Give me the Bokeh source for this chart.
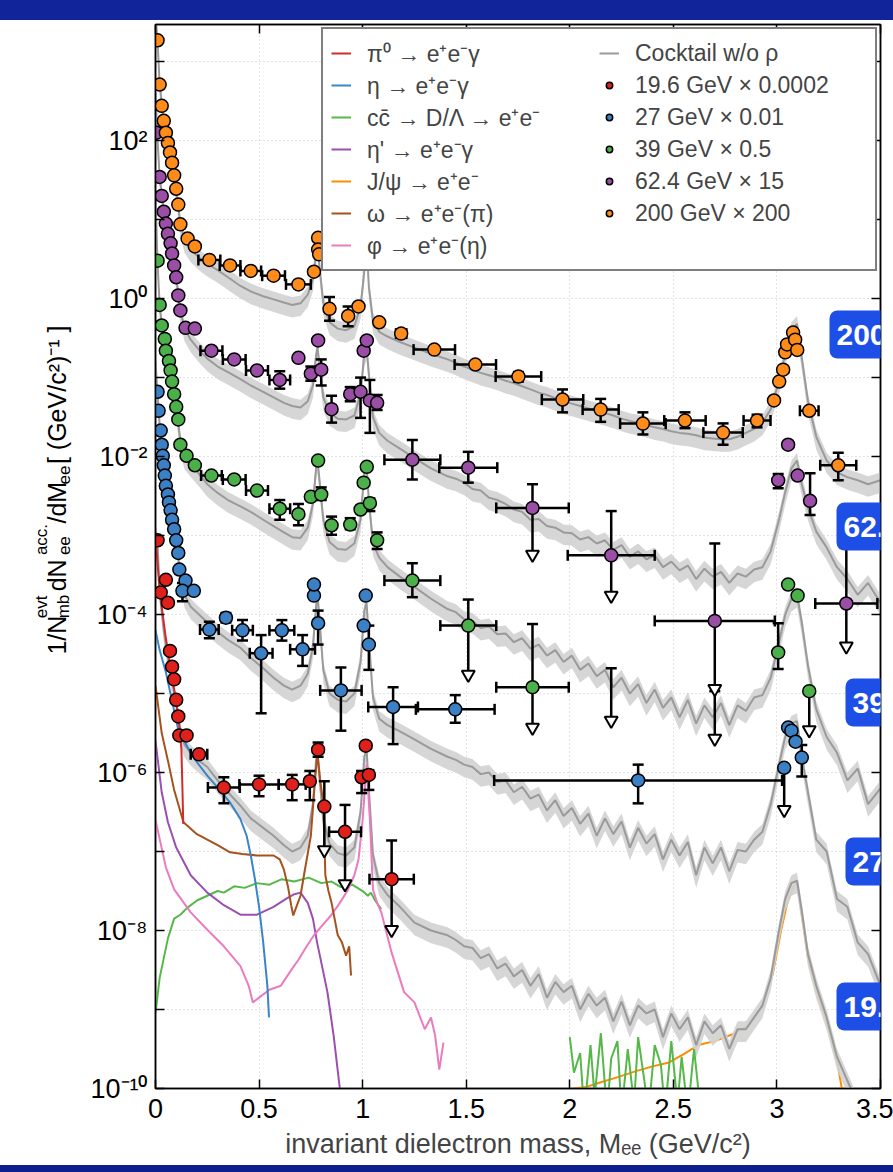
import math
from bokeh.plotting import figure
from bokeh.models import (Range1d, FixedTicker, CustomJSTickFormatter, LinearAxis,
                          LogAxis, Legend, LegendItem, Label, Div)
from bokeh.layouts import column, row
from bokeh.embed import file_html
from bokeh.resources import INLINE

FONT = "Liberation Sans"

# ---------------- data (log10 of the plotted values) ----------------
MASS_GRID = [0.0, 0.01, 0.02, 0.04, 0.06, 0.08, 0.10, 0.12, 0.14, 0.17, 0.21, 0.25, 0.30, 0.35,
             0.41, 0.46, 0.52, 0.57, 0.62, 0.66, 0.70, 0.735, 0.76, 0.775, 0.782, 0.79, 0.81,
             0.84, 0.88, 0.92, 0.96, 0.99, 1.008, 1.019, 1.03, 1.05, 1.08, 1.12, 1.18, 1.25,
             1.33,
             1.41, 1.45, 1.49, 1.53, 1.57, 1.61, 1.65, 1.69, 1.73, 1.77, 1.81, 1.85, 1.89, 1.93,
             1.97, 2.01, 2.05, 2.09, 2.13, 2.17, 2.21, 2.25, 2.29, 2.33, 2.37, 2.41, 2.45, 2.49,
             2.53, 2.57, 2.61, 2.65, 2.69, 2.73, 2.77, 2.81, 2.85, 2.89, 2.93, 2.97,
             3.01, 3.04, 3.07, 3.097, 3.12, 3.15, 3.19, 3.24, 3.29, 3.34, 3.39, 3.44, 3.5]

COCKTAIL_200 = [3.6, 3.25, 2.72, 2.25, 1.95, 1.70, 1.38, 0.95, 0.74, 0.62, 0.52, 0.44, 0.36, 0.27,
                0.16, 0.09, 0.03, -0.01, -0.05, -0.08, -0.06, 0.05, 0.25, 0.58, 0.70, 0.45, -0.05,
                -0.30, -0.38, -0.40, -0.35, -0.10, 0.35, 0.72, 0.15, -0.28, -0.42, -0.48, -0.55,
                -0.62, -0.70,
                -0.77, -0.81, -0.86, -0.90, -0.94, -0.97, -1.00, -1.04, -1.07, -1.11, -1.15,
                -1.19, -1.22, -1.26, -1.30, -1.33, -1.36, -1.39, -1.42, -1.45, -1.48, -1.52,
                -1.55, -1.57, -1.60, -1.63, -1.65, -1.68, -1.70, -1.71, -1.73, -1.76, -1.77,
                -1.78, -1.78, -1.75, -1.70, -1.65, -1.57, -1.40,
                -1.05, -0.70, -0.40, -0.32, -0.75, -1.30, -1.75, -2.05, -2.20, -2.26, -2.30,
                -2.35, -2.30]
COCKTAIL_62 = [2.6, 2.0, 1.55, 1.10, 0.82, 0.57, 0.27, -0.15, -0.38, -0.52, -0.65, -0.76, -0.86,
               -0.93, -1.02, -1.10, -1.18, -1.25, -1.32, -1.36, -1.38, -1.30, -1.10, -0.72, -0.62,
               -0.80, -1.25, -1.45, -1.52, -1.53, -1.48, -1.20, -0.70, -0.62, -0.95, -1.50, -1.70,
               -1.80, -1.90, -2.02, -2.15,
               -2.25, -2.28, -2.33, -2.41, -2.43, -2.52, -2.55, -2.60, -2.67, -2.70, -2.80,
               -2.79, -2.88, -2.90, -2.96, -2.97, -3.05, -3.02, -3.10, -3.06, -3.18, -3.12,
               -3.27, -3.20, -3.30, -3.25, -3.40, -3.33, -3.44, -3.38, -3.55, -3.42, -3.52,
               -3.46, -3.60, -3.48, -3.52, -3.43, -3.40, -3.20,
               -2.80, -2.45, -2.15, -2.05, -2.35, -2.65, -2.95, -3.15, -3.40, -3.55, -3.75,
               -3.60, -3.85]
COCKTAIL_39 = [1.3, 0.45, -0.08, -0.55, -0.80, -1.05, -1.37, -1.80, -2.00, -2.10, -2.22, -2.35,
               -2.46, -2.55, -2.63, -2.70, -2.80, -2.88, -2.96, -3.02, -3.03, -2.90, -2.60, -2.15,
               -2.05, -2.25, -2.80, -3.08, -3.17, -3.18, -3.10, -2.80, -2.20, -2.12, -2.55,
               -3.10, -3.28, -3.40, -3.52, -3.65, -3.80,
               -3.93, -3.97, -4.06, -4.08, -4.17, -4.15, -4.25, -4.24, -4.35, -4.30, -4.43,
               -4.38, -4.52, -4.45, -4.60, -4.52, -4.70, -4.62, -4.78, -4.70, -4.92, -4.80,
               -5.00, -4.88, -5.12, -4.95, -5.18, -5.05, -5.30, -5.08, -5.38, -5.15, -5.30,
               -5.12, -5.40, -5.15, -5.22, -5.05, -5.02, -4.80,
               -4.35, -4.00, -3.80, -3.75, -4.10, -4.65, -5.20, -5.55, -5.75, -6.10, -5.95,
               -6.40, -6.20]
COCKTAIL_27 = [-0.8, -1.20, -1.60, -2.10, -2.45, -2.78, -3.05, -3.50, -3.75, -3.90, -4.00, -4.10,
               -4.22, -4.32, -4.42, -4.55, -4.68, -4.80, -4.90, -4.95, -4.90, -4.75, -4.40, -3.90,
               -3.75, -4.00, -4.70, -5.00, -5.08, -5.10, -5.00, -4.60, -3.95, -3.85, -4.30,
               -5.05, -5.32, -5.40, -5.48, -5.58, -5.70,
               -5.80, -5.84, -5.90, -5.93, -6.02, -6.00, -6.12, -6.10, -6.25, -6.18, -6.33,
               -6.28, -6.48, -6.35, -6.55, -6.45, -6.65, -6.52, -6.80, -6.58, -6.78, -6.62,
               -6.95, -6.70, -6.90, -6.78, -7.10, -6.85, -7.05, -6.88, -7.30, -6.95, -7.15,
               -6.95, -7.25, -6.98, -7.00, -6.85, -6.75, -6.40,
               -5.90, -5.55, -5.38, -5.35, -5.80, -6.25, -6.85, -7.00, -7.60, -7.70, -8.15,
               -8.30, -8.70]
COCKTAIL_19 = [-2.9, -3.10, -3.70, -4.20, -4.55, -4.85, -5.10, -5.50, -5.65, -5.75, -5.85, -5.93,
               -6.10, -6.25, -6.42, -6.58, -6.70, -6.80, -6.92, -7.00, -6.95, -6.80, -6.40, -5.85,
               -5.75, -6.00, -6.60, -6.90, -7.02, -7.05, -6.95, -6.50, -5.80, -5.70, -6.20,
               -7.05, -7.40, -7.55, -7.70, -7.90, -8.00,
               -8.06, -8.12, -8.20, -8.22, -8.35, -8.30, -8.48, -8.42, -8.58, -8.50, -8.70,
               -8.55, -8.85, -8.65, -8.78, -8.70, -9.00, -8.80, -8.95, -8.85, -9.15, -8.90,
               -9.20, -8.95, -9.05, -9.00, -9.35, -9.05, -9.25, -9.10, -9.45, -9.15, -9.30,
               -9.20, -9.50, -9.25, -9.25, -9.10, -8.95, -8.60,
               -8.00, -7.60, -7.40, -7.37, -7.75, -8.30, -8.70, -9.10, -9.60, -9.90, -10.2,
               -10.5, -10.8]
SYS_LO_DEX = 0.16   # cocktail systematic band (log10 units)
SYS_HI_DEX = 0.10

# 19.6 GeV cocktail components (x 0.0002)
PI0_M = [0.0, 0.02, 0.05, 0.08, 0.10, 0.115, 0.125, 0.13, 0.134]
PI0_L = [-3.0, -3.7, -4.3, -4.8, -5.1, -5.4, -5.7, -6.2, -6.65]
ETA_M = [0.0, 0.02, 0.05, 0.11, 0.18, 0.25, 0.31, 0.36, 0.41, 0.44, 0.46, 0.48, 0.50, 0.52, 0.54, 0.548]
ETA_L = [-4.2, -4.45, -4.73, -5.46, -5.80, -6.04, -6.22, -6.38, -6.59, -6.80, -7.05, -7.35, -7.70,
         -8.15, -8.70, -9.10]
OMEGA_M = [0.0, 0.03, 0.06, 0.09, 0.135, 0.20, 0.25, 0.30, 0.36, 0.42, 0.49, 0.57, 0.60, 0.62,
           0.64, 0.655, 0.665, 0.68, 0.70, 0.72, 0.75, 0.77, 0.782, 0.795, 0.81, 0.82, 0.835,
           0.85, 0.88, 0.90, 0.92, 0.935, 0.944]
OMEGA_L = [-4.9, -5.5, -5.85, -6.22, -6.63, -6.78, -6.85, -6.92, -7.01, -7.03, -7.05, -7.05,
           -7.10, -7.23, -7.45, -7.68, -7.81, -7.70, -7.56, -7.25, -6.80, -6.10, -5.75, -6.10,
           -6.38, -7.30, -7.50, -7.65, -8.06, -8.15, -8.32, -8.20, -8.57]
ETAP_M = [0.0, 0.03, 0.06, 0.10, 0.17, 0.25, 0.33, 0.41, 0.49, 0.57, 0.63, 0.67, 0.70, 0.735,
          0.76, 0.78, 0.80, 0.83, 0.86, 0.885, 0.89]
ETAP_L = [-5.6, -6.25, -6.63, -6.95, -7.30, -7.52, -7.68, -7.80, -7.80, -7.70, -7.60, -7.54,
          -7.52, -7.65, -7.85, -8.15, -8.40, -8.78, -9.33, -9.89, -10.0]
PHI_M = [0.0, 0.05, 0.09, 0.17, 0.25, 0.33, 0.41, 0.45, 0.47, 0.50, 0.55, 0.605, 0.65, 0.69,
         0.73, 0.765, 0.80, 0.847, 0.89, 0.93, 0.96, 0.98, 1.0, 1.019, 1.035, 1.05, 1.07, 1.09,
         1.14, 1.20, 1.25, 1.30, 1.33, 1.35, 1.37, 1.39]
PHI_L = [-6.6, -7.2, -7.48, -7.77, -7.99, -8.20, -8.45, -8.70, -8.91, -8.85, -8.75, -8.70,
         -8.52, -8.37, -8.20, -8.06, -7.95, -7.81, -7.65, -7.48, -7.30, -7.10, -6.60, -5.90,
         -6.60, -7.48, -7.65, -7.77, -8.28, -8.78, -8.91, -9.25, -9.10, -9.33, -9.76, -9.42]
CCBAR_M = [0.0, 0.02, 0.04, 0.06, 0.09, 0.12, 0.15, 0.20, 0.25, 0.30, 0.33, 0.38, 0.43, 0.49,
           0.55, 0.61, 0.67, 0.74, 0.80, 0.85, 0.895, 0.95, 1.0, 1.025, 1.04, 1.06, 1.09]
CCBAR_L = [-9.05, -8.60, -8.35, -8.10, -7.85, -7.80, -7.72, -7.62, -7.56, -7.50, -7.52, -7.44,
           -7.46, -7.40, -7.42, -7.35, -7.38, -7.33, -7.40, -7.38, -7.45, -7.42, -7.50, -7.56,
           -7.52, -7.62, -7.73]
CCBAR_HI_M = [2.0, 2.02, 2.05, 2.07, 2.10, 2.12, 2.15, 2.18, 2.20, 2.23, 2.25, 2.28, 2.31, 2.33,
              2.36, 2.38, 2.41, 2.44, 2.46, 2.49, 2.52, 2.54, 2.57, 2.60, 2.62, 2.64]
CCBAR_HI_L = [-9.35, -9.80, -9.55, -10.3, -9.45, -10.1, -9.30, -10.3, -9.62, -9.40, -10.3,
              -9.50, -10.2, -9.35, -9.90, -10.3, -9.45, -9.70, -10.3, -9.40, -10.2, -9.60,
              -10.3, -9.50, -10.0, -10.3]
JPSI_M = [1.87, 1.95, 2.02, 2.08, 2.15, 2.24, 2.32, 2.40, 2.48, 2.56, 2.62, 2.70, 2.78, 2.86,
          2.93, 2.98, 3.02, 3.05, 3.08, 3.097, 3.12, 3.15, 3.19, 3.24, 3.29, 3.32]
JPSI_L = [-10.05, -10.02, -10.0, -9.98, -9.92, -9.85, -9.78, -9.72, -9.67, -9.55, -9.45, -9.40,
          -9.32, -9.20, -8.95, -8.55, -8.00, -7.65, -7.45, -7.40, -7.80, -8.35, -8.75, -9.15,
          -9.65, -10.1]

# data points: (mass, log10 value, x half-width, log10 err low, log10 err high)
PTS_200 = [(0.01, 3.27, 0, None, None), (0.02, 2.71, 0, None, None), (0.03, 2.44, 0, None, None),
           (0.04, 2.25, 0, None, None), (0.05, 2.10, 0, None, None), (0.06, 1.97, 0, None, None),
           (0.07, 1.85, 0, None, None), (0.08, 1.72, 0, None, None), (0.09, 1.56, 0, None, None),
           (0.10, 1.39, 0, None, None), (0.11, 1.19, 0, None, None), (0.12, 0.94, 0, None, None),
           (0.155, 0.76, 0, None, None), (0.19, 0.66, 0, None, None), (0.26, 0.49, 0.053, None, None),
           (0.36, 0.42, 0.05, None, None), (0.46, 0.35, 0.05, None, None), (0.57, 0.29, 0.055, None, None),
           (0.69, 0.18, 0.06, None, None), (0.765, 0.34, 0, None, None), (0.785, 0.77, 0, None, None),
           (0.785, 0.62, 0, None, None), (0.79, 0.56, 0, None, None), (0.84, -0.13, 0, -0.28, 0.02),
           (0.93, -0.22, 0, -0.35, -0.10), (0.98, -0.10, 0, None, None), (1.005, 0.68, 0, None, None),
           (1.01, 0.52, 0, None, None), (1.08, -0.30, 0, None, None), (1.186, -0.443, 0.025, None, None),
           (1.346, -0.646, 0.10, None, None), (1.544, -0.835, 0.10, None, None),
           (1.752, -0.987, 0.11, -1.05, -0.93), (1.965, -1.278, 0.10, -1.44, -1.15),
           (2.149, -1.405, 0.087, -1.56, -1.27), (2.353, -1.582, 0.11, -1.72, -1.44),
           (2.556, -1.544, 0.10, -1.64, -1.44), (2.740, -1.696, 0.095, -1.85, -1.58),
           (2.904, -1.544, 0.065, -1.63, -1.47), (2.986, -1.29, 0, None, None),
           (3.011, -1.05, 0, None, None), (3.030, -0.90, 0, None, None), (3.040, -0.68, 0, None, None),
           (3.049, -0.58, 0, None, None), (3.078, -0.43, 0, None, None), (3.088, -0.52, 0, None, None),
           (3.098, -0.65, 0, None, None), (3.156, -1.42, 0.045, None, None),
           (3.296, -2.11, 0.087, -2.30, -1.95)]
PTS_62 = [(0.005, 2.10, 0, None, None), (0.02, 1.54, 0, None, None), (0.03, 1.30, 0, None, None),
          (0.04, 1.10, 0, None, None), (0.05, 0.95, 0, None, None), (0.06, 0.82, 0, None, None),
          (0.073, 0.70, 0, None, None), (0.08, 0.57, 0, None, None), (0.09, 0.42, 0, None, None),
          (0.10, 0.27, 0, None, None), (0.11, 0.04, 0, None, None), (0.12, -0.15, 0, None, None),
          (0.145, -0.37, 0, None, None), (0.19, -0.38, 0, None, None), (0.27, -0.66, 0.053, None, None),
          (0.38, -0.77, 0.055, None, None), (0.49, -0.91, 0.053, None, None),
          (0.60, -1.03, 0.05, -1.14, -0.92), (0.69, -0.75, 0, None, None),
          (0.75, -0.95, 0, -1.04, -0.86), (0.785, -0.53, 0, None, None), (0.80, -0.90, 0, -1.10, -0.77),
          (0.85, -1.40, 0, -1.57, -1.23), (0.94, -1.21, 0, -1.30, -1.12), (0.99, -1.18, 0, -1.51, -1.00),
          (1.005, -0.66, 0, None, None), (1.02, -0.53, 0, None, None), (1.035, -1.29, 0, -1.70, -1.03),
          (1.07, -1.32, 0, -1.41, -1.22), (1.24, -2.04, 0.135, -2.29, -1.79),
          (1.51, -2.14, 0.14, -2.33, -1.94), (3.006, -2.30, 0, -2.40, -2.22),
          (3.054, -1.85, 0, None, None), (3.10, -2.24, 0, None, None), (3.16, -2.56, 0, -2.74, -2.21)]
PTS_39 = [(0.01, 0.48, 0, None, None), (0.02, -0.08, 0, None, None), (0.03, -0.34, 0, None, None),
          (0.045, -0.51, 0, None, None), (0.05, -0.66, 0, None, None), (0.065, -0.79, 0, None, None),
          (0.073, -0.91, 0, None, None), (0.08, -1.05, 0, None, None), (0.09, -1.21, 0, None, None),
          (0.10, -1.37, 0, None, None), (0.11, -1.53, 0, None, None), (0.12, -1.85, 0, None, None),
          (0.15, -1.99, 0, None, None), (0.19, -2.11, 0, None, None), (0.27, -2.24, 0.05, None, None),
          (0.38, -2.29, 0.055, None, None), (0.49, -2.43, 0.053, None, None),
          (0.60, -2.66, 0.05, -2.80, -2.55), (0.69, -2.73, 0, -2.87, -2.60),
          (0.75, -2.51, 0, None, None), (0.785, -2.05, 0, None, None), (0.80, -2.48, 0, -2.55, -2.39),
          (0.85, -2.87, 0, -2.99, -2.76), (0.94, -2.86, 0, -2.92, -2.78), (0.99, -2.67, 0, None, None),
          (1.005, -2.33, 0, None, None), (1.02, -2.13, 0, None, None), (1.035, -2.59, 0, -2.69, -2.53),
          (1.07, -3.06, 0, -3.17, -2.96), (1.24, -3.57, 0.135, -3.78, -3.35),
          (3.006, -4.48, 0, -4.69, -4.11), (3.054, -3.62, 0, None, None), (3.10, -3.76, 0, None, None)]
PTS_27 = [(0.01, -1.18, 0, None, None), (0.015, -1.42, 0, None, None), (0.025, -1.67, 0, None, None),
          (0.03, -1.85, 0, None, None), (0.035, -1.99, 0, None, None), (0.04, -2.11, 0, None, None),
          (0.045, -2.24, 0, None, None), (0.05, -2.37, 0, None, None), (0.06, -2.48, 0, None, None),
          (0.065, -2.58, 0, None, None), (0.073, -2.68, 0, None, None), (0.08, -2.80, 0, None, None),
          (0.09, -2.92, 0, None, None), (0.10, -3.06, 0, None, None), (0.11, -3.22, 0, None, None),
          (0.115, -3.43, 0, None, None), (0.145, -3.57, 0, None, None), (0.13, -3.70, 0, -3.83, -3.60),
          (0.185, -3.70, 0, None, None), (0.26, -4.19, 0.045, -4.30, -4.09),
          (0.34, -4.04, 0, -4.10, -3.98), (0.42, -4.20, 0.05, -4.33, -4.07),
          (0.51, -4.49, 0.055, -5.25, -4.26), (0.61, -4.20, 0.06, -4.33, -4.07),
          (0.71, -4.44, 0.06, -4.65, -4.26), (0.765, -3.76, 0, None, None), (0.765, -3.62, 0, None, None),
          (0.785, -4.11, 0, -4.38, -3.95), (0.895, -4.96, 0.10, -5.47, -4.67),
          (1.005, -4.14, 0, None, None), (1.015, -3.76, 0, None, None), (1.03, -4.38, 0, -4.70, -4.14),
          (1.147, -5.17, 0.12, -5.64, -4.92), (1.447, -5.20, 0.19, -5.37, -5.02),
          (2.33, -6.10, 0.695, -6.39, -5.90), (3.054, -5.43, 0, None, None), (3.07, -5.47, 0, None, None),
          (3.09, -5.61, 0, None, None), (3.12, -5.81, 0, -6.05, -5.65)]
PTS_19 = [(0.01, -3.06, 0, None, None), (0.025, -3.72, 0, None, None), (0.05, -3.56, 0, None, None),
          (0.06, -3.85, 0, None, None), (0.07, -4.46, 0, None, None), (0.08, -4.66, 0, None, None),
          (0.09, -4.82, 0, None, None), (0.10, -5.08, 0, None, None), (0.11, -5.29, 0, None, None),
          (0.115, -5.53, 0, None, None), (0.15, -5.53, 0, None, None), (0.21, -5.77, 0.04, None, None),
          (0.33, -6.19, 0.077, -6.39, -6.06), (0.50, -6.15, 0.095, -6.30, -6.04),
          (0.66, -6.15, 0.065, -6.35, -6.03), (0.745, -6.11, 0, -6.35, -5.98),
          (0.785, -5.71, 0, -5.80, -5.62), (0.995, -6.06, 0, -6.26, -5.98),
          (1.015, -5.66, 0, None, None), (1.03, -6.03, 0, -6.22, -5.97)]
# upper limits: (mass, log10 value or None, x half-width, log10 cap, log10 arrow end)
UL_62 = [(1.82, -2.65, 0.175, -2.35, -3.30), (2.20, -3.25, 0.21, -2.69, -3.82),
         (2.70, -4.08, 0.29, -3.10, -5.00), (3.335, -3.86, 0.15, -3.15, -4.46)]
UL_39 = [(1.51, -4.14, 0.135, -3.81, -4.82), (1.82, -4.92, 0.175, -4.12, -5.49),
         (2.20, None, 0, -4.68, -5.40), (2.70, None, 0, -4.97, -5.63), (3.156, -4.97, 0, -4.97, -5.52)]
UL_27 = [(3.035, -5.94, 0, -5.94, -6.53)]
UL_19 = [(0.815, -6.43, 0, -6.11, -7.04), (0.915, -6.75, 0.077, -6.41, -7.47),
         (1.14, -7.35, 0.107, -6.86, -8.05)]

SERIES_LABELS = ["19.6 GeV × 0.0002", "27 GeV × 0.01", "39 GeV × 0.5", "62.4 GeV × 15", "200 GeV × 200"]
COMPONENT_LABELS = ["π⁰ → e⁺e⁻γ", "η → e⁺e⁻γ", "cc̄ → D/Λ → e⁺e⁻", "η' → e⁺e⁻γ",
                    "J/ψ → e⁺e⁻", "ω → e⁺e⁻(π)", "φ → e⁺e⁻(η)"]
ENERGY_TAGS = ["200", "62.", "39", "27", "19."]   # as visible at the right edge

# ---------------- styling ----------------
C_RED, C_BLUE, C_GREEN, C_PURPLE, C_ORANGE = "#e0201b", "#3b7fc4", "#4cb04a", "#9a4ea6", "#ff8c1a"
L_PI0, L_ETA, L_CC, L_ETAP, L_JPSI, L_OMEGA, L_PHI = ("#d42a2a", "#3a85c8", "#55b848", "#9b4fb0",
                                                       "#ff8c00", "#a5521e", "#ea7bbf")
GRAY, BAND = "#9a9a9a", "#d2d2d2"


def pw(vals):
    return [10 ** v for v in vals]


W, H = 893, 1145
LW = 75                     # width of the strip holding the y-axis title
TOP_LOG = 3.47
FRAME_LEFT = 155            # absolute x of the plot frame
p = figure(width=W - LW, height=H, y_axis_type="log",
           x_range=Range1d(0, 3.5), y_range=Range1d(1e-10, 10 ** TOP_LOG),
           output_backend="svg", toolbar_location=None,
           min_border_left=FRAME_LEFT - LW, min_border_right=13, min_border_top=4,
           min_border_bottom=77)
p.outline_line_color = "black"
p.outline_line_width = 1.5
p.border_fill_color = "white"

# cocktails (J/psi component drawn first so the bands sit over it)
r_jpsi = p.line(JPSI_M, pw(JPSI_L), line_color=L_JPSI, line_width=2)
for vals in [COCKTAIL_200, COCKTAIL_62, COCKTAIL_39, COCKTAIL_27, COCKTAIL_19]:
    p.varea(x=MASS_GRID, y1=[10 ** (v - SYS_LO_DEX) for v in vals],
            y2=[10 ** (v + SYS_HI_DEX) for v in vals], fill_color=BAND, fill_alpha=0.92)
cock_r = None
for vals in [COCKTAIL_200, COCKTAIL_62, COCKTAIL_39, COCKTAIL_27, COCKTAIL_19]:
    cock_r = p.line(MASS_GRID, pw(vals), line_color=GRAY, line_width=2)

r_cc = p.line(CCBAR_M, pw(CCBAR_L), line_color=L_CC, line_width=2)
p.line(CCBAR_HI_M, pw(CCBAR_HI_L), line_color=L_CC, line_width=2)
r_etap = p.line(ETAP_M, pw(ETAP_L), line_color=L_ETAP, line_width=2)
r_phi = p.line(PHI_M, pw(PHI_L), line_color=L_PHI, line_width=2)
r_omega = p.line(OMEGA_M, pw(OMEGA_L), line_color=L_OMEGA, line_width=2)
r_eta = p.line(ETA_M, pw(ETA_L), line_color=L_ETA, line_width=2)
r_pi0 = p.line(PI0_M, pw(PI0_L), line_color=L_PI0, line_width=2)

# error bars
sx0, sy0, sx1, sy1 = [], [], [], []
vcx, vcy, hcx, hcy, tx, ty = [], [], [], [], [], []
for pts in [PTS_200, PTS_62, PTS_39, PTS_27, PTS_19]:
    for (m, ly, dx, lo, hi) in pts:
        y = 10 ** ly
        if dx:
            sx0 += [m - dx]; sx1 += [m + dx]; sy0 += [y]; sy1 += [y]
            vcx += [m - dx, m + dx]; vcy += [y, y]
        if lo is not None:
            sx0 += [m]; sx1 += [m]; sy0 += [10 ** lo]; sy1 += [10 ** hi]
            hcx += [m, m]; hcy += [10 ** lo, 10 ** hi]
for uls in [UL_62, UL_39, UL_27, UL_19]:
    for (m, ly, dx, cap, tip) in uls:
        sx0 += [m]; sx1 += [m]; sy0 += [10 ** cap]; sy1 += [10 ** tip]
        hcx += [m]; hcy += [10 ** cap]
        tx += [m]; ty += [10 ** (tip + 0.06)]
        if ly is not None and dx:
            sx0 += [m - dx]; sx1 += [m + dx]; sy0 += [10 ** ly]; sy1 += [10 ** ly]
            vcx += [m - dx, m + dx]; vcy += [10 ** ly, 10 ** ly]

p.segment(sx0, sy0, sx1, sy1, line_color="black", line_width=2.5)
p.scatter(vcx, vcy, marker="dash", angle=math.pi / 2, size=11, line_color="black", line_width=2.5)
p.scatter(hcx, hcy, marker="dash", size=11, line_color="black", line_width=2.5)
p.scatter(tx, ty, marker="inverted_triangle", size=13, fill_color="white",
          line_color="black", line_width=2)

series_r = []
for pts, uls, col in [(PTS_19, UL_19, C_RED), (PTS_27, UL_27, C_BLUE), (PTS_39, UL_39, C_GREEN),
                      (PTS_62, UL_62, C_PURPLE), (PTS_200, [], C_ORANGE)]:
    xs = [t[0] for t in pts] + [u[0] for u in uls if u[1] is not None]
    ys = [10 ** t[1] for t in pts] + [10 ** u[1] for u in uls if u[1] is not None]
    series_r.append(p.scatter(xs, ys, marker="circle", size=13, fill_color=col,
                              line_color="black", line_width=1.5))

# axes
X_TICKS = [0, 0.5, 1, 1.5, 2, 2.5, 3, 3.5]
Y_TICKS = [10.0 ** e for e in range(-10, 4)]
p.xaxis.ticker = FixedTicker(ticks=X_TICKS)
p.xaxis.formatter = CustomJSTickFormatter(code="return tick.toString();")
p.yaxis.ticker = FixedTicker(ticks=Y_TICKS)
p.yaxis.formatter = CustomJSTickFormatter(code="""
const e = Math.round(Math.log10(tick));
if (e % 2 !== 0) { return ""; }
const m = {"-": "\u207b", "0": "\u2070", "1": "\u00b9", "2": "\u00b2", "3": "\u00b3",
           "4": "\u2074", "5": "\u2075", "6": "\u2076", "7": "\u2077", "8": "\u2078", "9": "\u2079"};
return "10" + String(e).split("").map(c => m[c]).join("");
""")
for ax in [p.xaxis[0], p.yaxis[0]]:
    ax.major_tick_in = 9
    ax.major_tick_out = 0
    ax.minor_tick_in = 0
    ax.minor_tick_out = 0
    ax.major_tick_line_width = 1.5
    ax.axis_line_width = 1.5
    ax.major_label_text_font = FONT
    ax.major_label_text_font_size = "27px"
    ax.major_label_text_color = "black"
p.yaxis.major_label_standoff = 8
p.xaxis.major_label_standoff = 10
p.xaxis.axis_label = "invariant dielectron mass, Mₑₑ (GeV/c²)"
p.xaxis.axis_label_text_font = FONT
p.xaxis.axis_label_text_font_size = "27px"
p.xaxis.axis_label_text_font_style = "normal"
p.xaxis.axis_label_standoff = 8

blank = CustomJSTickFormatter(code="return '';")
top_ax = LinearAxis(ticker=FixedTicker(ticks=X_TICKS), formatter=blank,
                    major_tick_in=9, major_tick_out=0, minor_tick_in=0, minor_tick_out=0,
                    major_label_standoff=0, major_tick_line_width=1.5, axis_line_width=1.5)
right_ax = LogAxis(ticker=FixedTicker(ticks=Y_TICKS), formatter=blank,
                   major_tick_in=9, major_tick_out=0, minor_tick_in=0, minor_tick_out=0,
                   major_label_standoff=0, major_tick_line_width=1.5, axis_line_width=1.5)
p.add_layout(top_ax, "above")
p.add_layout(right_ax, "right")

p.xgrid.ticker = FixedTicker(ticks=[0.5, 1, 1.5, 2, 2.5, 3])
for g in [p.xgrid[0], p.ygrid[0]]:
    g.grid_line_color = "#c8c8c8"
    g.grid_line_dash = "1 3"
    g.grid_line_width = 1

# legend
comp_r = [r_pi0, r_eta, r_cc, r_etap, r_jpsi, r_omega, r_phi]
items = [LegendItem(label=lab, renderers=[r]) for lab, r in zip(COMPONENT_LABELS, comp_r)]
items.append(LegendItem(label="Cocktail w/o ρ", renderers=[cock_r]))
items += [LegendItem(label=lab, renderers=[r]) for lab, r in zip(SERIES_LABELS, series_r)]
legend = Legend(items=items, location="top_right", orientation="vertical", nrows=7,
                label_text_font=FONT, label_text_font_size="23px", label_text_line_height=0.9,
                glyph_width=20, glyph_height=16, label_height=16, label_standoff=16,
                spacing=0, padding=8, margin=3,
                border_line_color="black", border_line_width=2, background_fill_alpha=1,
                label_width=232)
p.add_layout(legend)

# overlay energy tags at the right edge (kept inside the frame)
FRAME_TOP_ABS = 24
PPD = 1064 / (TOP_LOG + 10)


def ydata(abs_y):
    return 10 ** (TOP_LOG - (abs_y - FRAME_TOP_ABS) / PPD)


for tag, tx_abs, cy in zip(ENERGY_TAGS, [829, 836, 845, 845, 836], [334, 526, 702, 861, 1006]):
    p.add_layout(Label(x=tx_abs - FRAME_LEFT, x_units="screen", y=ydata(cy), text=tag,
                       text_font=FONT, text_font_style="bold", text_font_size="30px",
                       text_color="white", text_baseline="middle", text_align="left",
                       background_fill_color="#1d4fe6", background_fill_alpha=1,
                       padding=(7, 14), border_radius=8))

# y-axis title, built from pieces (sub/superscripts) in a strip left of the plot
ytitle = figure(width=LW, height=H, x_range=Range1d(0, LW), y_range=Range1d(H, 0),
                output_backend="svg", toolbar_location=None,
                x_axis_location=None, y_axis_location=None,
                min_border=0, min_border_left=0, min_border_right=0,
                min_border_top=0, min_border_bottom=0)
ytitle.outline_line_color = None
ytitle.grid.visible = False
ytitle.border_fill_color = "white"

YLABEL_PARTS = [("1/N", "main", 39), ("evt", "sup", 0), ("mb", "sub", 29), (" dN", "main", 39),
                ("acc.", "sup", 0), ("ee", "sub", 34), ("/dM", "main", 42), ("ee", "sub", 22),
                (" [ (GeV/c²)⁻¹ ]", "main", 0)]
base_x = {"main": 56, "sup": 41, "sub": 63}
fsize = {"main": "25px", "sup": "17px", "sub": "17px"}
pos = 698 - 20
for text, role, adv in YLABEL_PARTS:
    ytitle.add_layout(Label(x=base_x[role], y=pos, text=text, angle=math.pi / 2,
                            text_font=FONT, text_font_size=fsize[role], text_align="left",
                            text_baseline="alphabetic", text_color="black"))
    pos -= adv

top_bar = Div(width=W, height=20, margin=(0, 0, 0, 0),
              styles={"background-color": "#12249a"})
bot_bar = Div(width=W, height=7, margin=(0, 0, 0, 0),
              styles={"background-color": "#0d1f8e"})
page = column(top_bar, row(ytitle, p, spacing=0), bot_bar, spacing=0)
open("out.html", "w").write(file_html(page, INLINE))
